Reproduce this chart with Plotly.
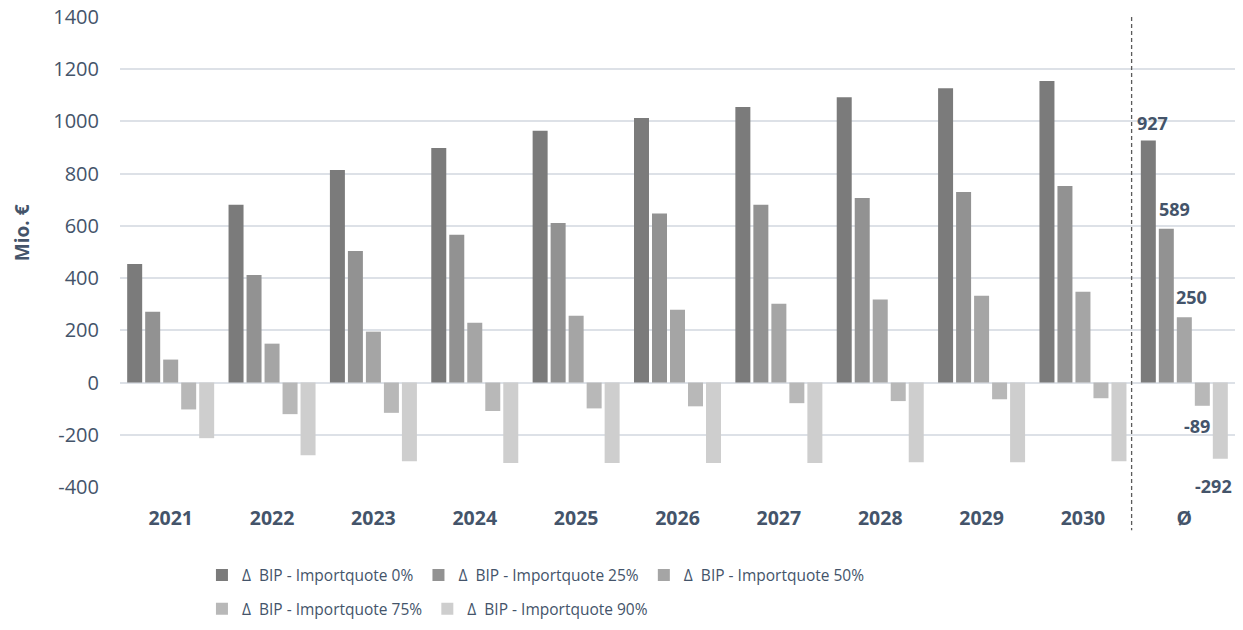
import plotly.graph_objects as go

categories = ["2021", "2022", "2023", "2024", "2025", "2026", "2027", "2028", "2029", "2030", "Ø"]
series_names = [
    "Δ  BIP - Importquote 0%",
    "Δ  BIP - Importquote 25%",
    "Δ  BIP - Importquote 50%",
    "Δ  BIP - Importquote 75%",
    "Δ  BIP - Importquote 90%",
]
quote_0 = [454, 681, 814, 898, 964, 1013, 1055, 1093, 1127, 1155, 927]
quote_25 = [271, 412, 504, 566, 611, 647, 681, 707, 730, 753, 589]
quote_50 = [88, 149, 195, 229, 256, 279, 302, 318, 332, 348, 250]
quote_75 = [-103, -121, -116, -109, -99, -91, -79, -71, -64, -60, -89]
quote_90 = [-213, -278, -301, -308, -308, -308, -308, -305, -305, -301, -292]
series_values = [quote_0, quote_25, quote_50, quote_75, quote_90]
y_ticks = [-400, -200, 0, 200, 400, 600, 800, 1000, 1200, 1400]

colors = ["#7b7b7b", "#929292", "#a5a5a5", "#b8b8b8", "#cecece"]
text_color = "#44546A"
font_family = "Open Sans"

fig = go.Figure()
for i, (name, vals) in enumerate(zip(series_names, series_values)):
    fig.add_trace(go.Bar(
        x=categories, y=vals, name=name,
        marker=dict(color=colors[i], line=dict(width=0)),
        legend="legend" if i < 3 else "legend2",
        hoverinfo="x+y+name",
    ))

# data labels on the average group
label_xshift = [-32, -10, 7, 13, 29]
label_yshift = [18, 20, 20, -20, -27]
for i, vals in enumerate(series_values):
    fig.add_annotation(
        x=categories[-1], y=vals[-1], text=str(vals[-1]),
        showarrow=False, xshift=label_xshift[i], yshift=label_yshift[i],
        yanchor="middle", xanchor="center",
        font=dict(family=font_family, size=18, color=text_color, weight="bold"),
    )

# y-axis title
fig.add_annotation(
    x=-0.088, y=0.542, xref="paper", yref="paper", text="Mio. €",
    xanchor="center", yanchor="middle",
    textangle=-90, showarrow=False,
    font=dict(family=font_family, size=19, color=text_color, weight="bold"),
)

# dashed separator before the average group
fig.add_shape(
    type="line", xref="x", yref="paper", x0=9.48, x1=9.48, y0=1, y1=-0.092,
    line=dict(color="#5a5a5a", width=1.3, dash="4px,3px"),
)

fig.update_layout(
    width=1243, height=630,
    margin=dict(l=120, r=8, t=17, b=143, autoexpand=False),
    paper_bgcolor="white", plot_bgcolor="white",
    barmode="group", bargap=0.112, bargroupgap=0.167,
    font=dict(family=font_family, color=text_color),
    legend=dict(
        orientation="h", x=0.0735, xanchor="left", y=-0.188, yanchor="middle",
        font=dict(family=font_family, size=15.5, color=text_color),
        itemwidth=30, bgcolor="rgba(0,0,0,0)",
    ),
    legend2=dict(
        orientation="h", x=0.0735, xanchor="left", y=-0.26, yanchor="middle",
        font=dict(family=font_family, size=15.5, color=text_color),
        itemwidth=30, bgcolor="rgba(0,0,0,0)",
    ),
    showlegend=True,
)
fig.update_xaxes(
    type="category", showgrid=False, showline=False, ticks="",
    tickfont=dict(family=font_family, size=19.5, color=text_color, weight="bold"),
    ticklabelstandoff=17,
)
fig.update_yaxes(
    range=[-400, 1400], tickvals=y_ticks, ticktext=[str(v) for v in y_ticks],
    showgrid=True, gridcolor="#dde1e7", gridwidth=1.5,
    zeroline=True, zerolinecolor="#dde1e7", zerolinewidth=1.5,
    showline=False, ticks="", ticklabeloverflow="allow",
    tickfont=dict(family=font_family, size=20, color=text_color),
    ticklabelstandoff=20,
)

fig.write_html(
    "out.html",
    config={"displayModeBar": False},
    post_script="document.body.style.margin='0px';document.body.style.overflow='hidden';",
)
